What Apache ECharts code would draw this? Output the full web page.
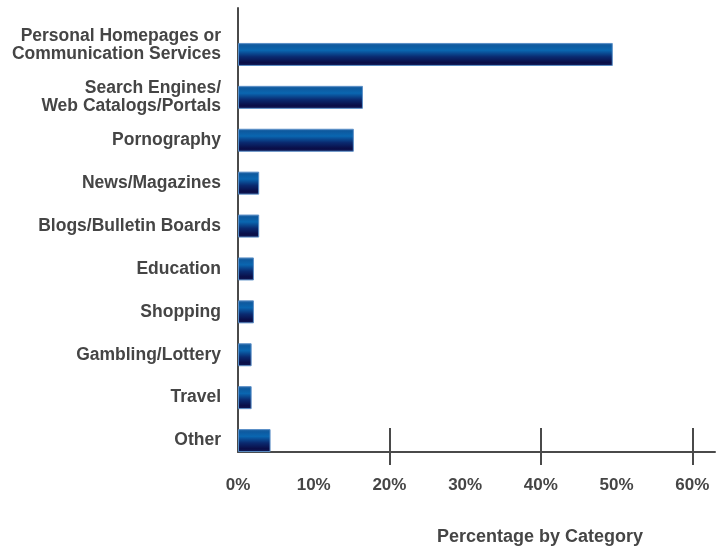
<!DOCTYPE html>
<html>
<head>
<meta charset="utf-8">
<script src="https://cdn.jsdelivr.net/npm/echarts@6/dist/echarts.min.js"></script>
<style>
  html, body { margin: 0; padding: 0; background: #fff; }
  #chart { width: 722px; height: 546px; }
</style>
</head>
<body>
<div id="chart"></div>
<script>
// categories top to bottom, share of each in %
const categories = [
  "Personal Homepages or\nCommunication Services",
  "Search Engines/\nWeb Catalogs/Portals",
  "Pornography",
  "News/Magazines",
  "Blogs/Bulletin Boards",
  "Education",
  "Shopping",
  "Gambling/Lottery",
  "Travel",
  "Other"
];
const values = [49.5, 16.5, 15.3, 2.8, 2.8, 2.1, 2.1, 1.8, 1.8, 4.3];
const labelTicks = [0, 10, 20, 30, 40, 50, 60];
const bigTicks = [20, 40, 60];

const textColor = "#454545";
const axisColor = "#4a4a4a";
const font = "Liberation Sans, Arial, sans-serif";

const chart = echarts.init(document.getElementById("chart"));

const barFill = new echarts.graphic.LinearGradient(0, 0, 0, 1, [
  { offset: 0, color: "#2a6aa8" },
  { offset: 0.12, color: "#0d5aa0" },
  { offset: 0.32, color: "#0a66b0" },
  { offset: 0.6, color: "#0a2a70" },
  { offset: 0.85, color: "#0a0e48" },
  { offset: 1, color: "#101a55" }
]);

// grid 0 carries the axis frame, grid 1 carries the bars and category labels
const xBase = { type: "value", min: 0, max: 63, interval: 10, splitLine: { show: false } };

chart.setOption({
  animation: false,
  title: {
    text: "Percentage by Category",
    left: 432, top: 523,
    textStyle: { fontFamily: font, fontSize: 18, fontWeight: "bold", color: textColor }
  },
  grid: [
    { left: 238, right: 7, top: 8, bottom: 94 },
    { left: 238, right: 7, top: 33, bottom: 84 }
  ],
  xAxis: [
    Object.assign({}, xBase, {
      gridIndex: 0,
      axisLine: { show: true, lineStyle: { color: axisColor, width: 2 } },
      axisTick: { show: false },
      axisLabel: {
        customValues: labelTicks, margin: 25,
        formatter: v => v + "%",
        fontFamily: font, fontSize: 17, fontWeight: "bold", color: textColor
      }
    }),
    Object.assign({}, xBase, {
      gridIndex: 0, position: "bottom",
      axisLine: { show: false },
      axisLabel: { show: false },
      axisTick: { show: true, inside: true, length: 24, customValues: bigTicks, lineStyle: { color: axisColor, width: 2 } }
    }),
    Object.assign({}, xBase, {
      gridIndex: 0, position: "bottom",
      axisLine: { show: false },
      axisLabel: { show: false },
      axisTick: { show: true, length: 13, customValues: bigTicks, lineStyle: { color: axisColor, width: 2 } }
    }),
    Object.assign({}, xBase, {
      gridIndex: 1, show: false
    })
  ],
  yAxis: [
    {
      gridIndex: 0, type: "value", min: 0, max: 1,
      axisLine: { show: true, lineStyle: { color: axisColor, width: 2 } },
      axisTick: { show: false }, axisLabel: { show: false }, splitLine: { show: false }
    },
    {
      gridIndex: 1,
      type: "category",
      data: categories,
      inverse: true,
      axisLine: { show: false },
      axisTick: { show: false },
      axisLabel: {
        interval: 0, showMinLabel: true, showMaxLabel: true, hideOverlap: false,
        margin: 17, fontFamily: font, fontSize: 17.5, fontWeight: "bold",
        color: textColor, lineHeight: 18, align: "right",
        // the first label sits above its bar in the original: pad it with a blank line
        formatter: (v, i) => (i === 0 ? v + "\n " : v)
      }
    }
  ],
  series: [{
    type: "bar",
    xAxisIndex: 3, yAxisIndex: 1,
    data: values,
    barWidth: 23,
    itemStyle: { color: barFill, borderColor: "#5b8fc7", borderWidth: 1 }
  }]
});
</script>
</body>
</html>
